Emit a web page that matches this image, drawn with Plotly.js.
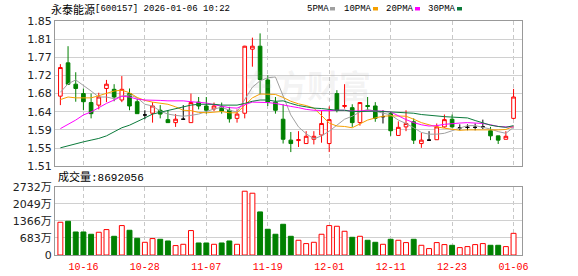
<!DOCTYPE html>
<html><head><meta charset="utf-8">
<script src="https://cdn.plot.ly/plotly-3.0.1.min.js"></script>
<style>html,body{margin:0;padding:0;background:#fff}#chart{width:578px;height:276px}</style>
</head><body><div id="chart"></div>
<script>
const dates = ['10-13','10-14','10-15','10-16','10-17','10-20','10-21','10-22','10-23','10-24',
'10-27','10-28','10-29','10-30','10-31','11-03','11-04','11-05','11-06','11-07',
'11-10','11-11','11-12','11-13','11-14','11-17','11-18','11-19','11-20','11-21',
'11-24','11-25','11-26','11-27','11-28','12-01','12-02','12-03','12-04','12-05',
'12-08','12-09','12-10','12-11','12-12','12-15','12-16','12-17','12-18','12-19',
'12-22','12-23','12-24','12-25','12-26','12-29','12-30','12-31','01-05','01-06'];

const opens  = [1.674,1.752,1.702,1.680,1.659,1.653,1.692,1.690,1.665,1.680,
1.661,1.630,1.634,1.641,1.619,1.612,1.620,1.612,1.660,1.651,
1.644,1.649,1.641,1.622,1.634,1.784,1.791,1.712,1.660,1.620,
1.571,1.570,1.563,1.573,1.583,1.563,1.680,1.650,1.647,1.612,
1.652,1.651,1.626,1.633,1.582,1.602,1.614,1.563,1.571,1.572,
1.602,1.620,1.600,1.601,1.601,1.602,1.593,1.581,1.573,1.622];
const highs  = [1.749,1.791,1.730,1.692,1.680,1.682,1.712,1.702,1.721,1.692,
1.668,1.641,1.660,1.653,1.641,1.632,1.653,1.680,1.672,1.672,
1.659,1.659,1.649,1.643,1.792,1.811,1.821,1.723,1.672,1.655,
1.590,1.592,1.592,1.592,1.639,1.650,1.688,1.702,1.655,1.660,
1.672,1.660,1.641,1.637,1.615,1.641,1.622,1.588,1.592,1.610,
1.631,1.631,1.608,1.608,1.610,1.619,1.602,1.581,1.592,1.691];
const lows   = [1.653,1.700,1.661,1.641,1.622,1.643,1.660,1.662,1.660,1.641,
1.633,1.620,1.612,1.622,1.612,1.602,1.619,1.612,1.643,1.633,
1.639,1.633,1.612,1.612,1.622,1.743,1.678,1.651,1.633,1.563,
1.543,1.555,1.563,1.561,1.565,1.543,1.636,1.645,1.602,1.605,
1.641,1.614,1.610,1.581,1.581,1.592,1.562,1.553,1.570,1.572,
1.600,1.600,1.594,1.594,1.594,1.597,1.571,1.562,1.573,1.620];
const closes = [1.741,1.702,1.692,1.661,1.633,1.672,1.702,1.672,1.690,1.651,
1.633,1.630,1.651,1.632,1.612,1.620,1.620,1.659,1.651,1.641,
1.651,1.639,1.621,1.632,1.791,1.791,1.713,1.660,1.641,1.573,
1.563,1.572,1.580,1.580,1.610,1.619,1.641,1.652,1.612,1.659,
1.650,1.622,1.626,1.593,1.601,1.610,1.571,1.571,1.571,1.602,
1.619,1.602,1.600,1.601,1.601,1.602,1.581,1.571,1.580,1.672];

const ma5  = [1.683,1.703,1.712,1.700,1.686,1.672,1.672,1.668,1.674,1.677,
1.670,1.655,1.651,1.639,1.632,1.629,1.627,1.629,1.632,1.638,
1.644,1.648,1.641,1.637,1.667,1.695,1.710,1.717,1.719,1.676,
1.630,1.602,1.586,1.574,1.581,1.592,1.606,1.620,1.627,1.637,
1.643,1.639,1.634,1.630,1.618,1.610,1.600,1.589,1.585,1.585,
1.587,1.593,1.599,1.605,1.605,1.601,1.597,1.591,1.587,1.601];
const ma10 = [1.666,1.672,1.670,1.670,1.670,1.675,1.680,1.686,1.688,1.682,
1.671,1.664,1.660,1.657,1.655,1.649,1.641,1.640,1.636,1.635,
1.637,1.638,1.635,1.635,1.653,1.670,1.679,1.679,1.678,1.671,
1.662,1.656,1.652,1.646,1.628,1.611,1.604,1.603,1.600,1.609,
1.618,1.623,1.627,1.628,1.628,1.627,1.620,1.612,1.607,1.602,
1.599,1.597,1.594,1.595,1.595,1.594,1.595,1.595,1.596,1.603];
const ma20 = [1.598,1.608,1.618,1.630,1.637,1.647,1.657,1.665,1.674,1.672,
1.667,1.665,1.665,1.664,1.663,1.663,1.663,1.661,1.660,1.658,
1.654,1.651,1.647,1.646,1.654,1.660,1.660,1.659,1.657,1.653,
1.650,1.647,1.643,1.641,1.640,1.640,1.641,1.641,1.639,1.640,
1.640,1.639,1.639,1.637,1.628,1.619,1.612,1.607,1.604,1.605,
1.608,1.610,1.611,1.612,1.611,1.610,1.607,1.603,1.602,1.602];
const ma30 = [1.553,1.558,1.562,1.567,1.571,1.575,1.581,1.590,1.600,1.606,
1.614,1.623,1.632,1.636,1.641,1.645,1.649,1.653,1.655,1.655,
1.655,1.653,1.653,1.653,1.657,1.662,1.665,1.665,1.662,1.663,
1.657,1.652,1.649,1.646,1.645,1.643,1.641,1.641,1.638,1.638,
1.639,1.639,1.638,1.637,1.636,1.636,1.634,1.631,1.629,1.627,
1.626,1.625,1.624,1.623,1.617,1.611,1.606,1.603,1.601,1.605];

// volume in 万 (10k shares)
const volume = [1314,1354,924,924,832,912,1020,751,1181,992,
671,510,659,631,563,378,430,980,482,482,
430,482,563,430,2559,2479,1728,1033,832,1233,
751,591,458,510,832,1181,1153,952,711,751,
591,510,430,631,591,498,631,390,257,498,
418,390,297,337,418,458,390,390,337,869];
// 1 = up (red hollow), -1 = down (green)
const volDir = [1,-1,-1,-1,-1,1,1,-1,1,-1,
-1,1,1,-1,-1,1,1,1,-1,-1,
1,-1,-1,1,1,1,-1,-1,-1,-1,
-1,1,1,1,1,1,1,1,-1,1,
-1,-1,1,-1,1,1,-1,1,1,1,
1,-1,1,1,1,1,-1,-1,1,1];

const xTickLabels = ['10-16','10-28','11-07','11-19','12-01','12-11','12-23','01-06'];
const priceTickVals = [1.51,1.5525,1.595,1.6375,1.68,1.7225,1.765,1.8075,1.85];
const priceTickText = ['1.51','1.55','1.59','1.64','1.68','1.72','1.77','1.81','1.85'];
const volTickVals = [0,683,1366,2049,2732];
const volTickText = ['0','683万','1366万','2049万','2732万'];
const maNames = ['5PMA','10PMA','20PMA','30PMA'];

const RED = '#ff0000', GREEN = '#008000', BLACK = '#000000';
const maColors = ['#a0a0a0','#f5a000','#ff00ff','#0b7a3b'];

function subset(pred){
  const o={x:[],open:[],high:[],low:[],close:[]};
  for(let i=0;i<dates.length;i++){
    if(pred(opens[i],closes[i])){
      o.x.push(dates[i]);o.open.push(opens[i]);o.high.push(highs[i]);o.low.push(lows[i]);o.close.push(closes[i]);
    }
  }
  return o;
}
function candle(d, color, fill){
  return Object.assign({type:'candlestick', xaxis:'x', yaxis:'y', whiskerwidth:0, hoverinfo:'skip',
    increasing:{line:{color:color,width:1},fillcolor:fill},
    decreasing:{line:{color:color,width:1},fillcolor:fill}}, d);
}
const traces = [
  candle(subset((o,c)=>c>o), RED, '#ffffff'),
  candle(subset((o,c)=>c<o), GREEN, GREEN),
  candle(subset((o,c)=>c===o), BLACK, BLACK)
];
[ma5,ma10,ma20,ma30].forEach((m,k)=>{
  traces.push({type:'scatter',mode:'lines',x:dates,y:m,xaxis:'x',yaxis:'y',
    line:{color:maColors[k],width:1},hoverinfo:'skip'});
});
traces.push({type:'bar',x:dates,y:volume,xaxis:'x2',yaxis:'y2',hoverinfo:'skip',
  marker:{color:volDir.map(d=>d>0?'#ffffff':GREEN),
          line:{color:volDir.map(d=>d>0?RED:GREEN),width:1}}});

const L=55, R=522, T=21, B=254.7;
const px = x => (x-L)/(R-L);
const py = y => (B-y)/(B-T);

const annotations = [
  {text:'永泰能源',x:px(50),y:py(9),xref:'paper',yref:'paper',xanchor:'left',yanchor:'middle',showarrow:false,
   font:{family:'Noto Sans CJK SC',size:11,color:'#000'},borderpad:0},
  {text:'[600157] 2026-01-06 10:22',x:px(94),y:py(9),xref:'paper',yref:'paper',xanchor:'left',yanchor:'middle',showarrow:false,
   font:{family:'Liberation Mono',size:9,color:'#000'},borderpad:0},
  {text:'成交量:8692056',x:px(57),y:py(177),xref:'paper',yref:'paper',xanchor:'left',yanchor:'middle',showarrow:false,
   font:{family:'Liberation Mono, Noto Sans CJK SC',size:11,color:'#000'},borderpad:0},
  {text:'东方财富',x:px(307),y:py(84),xref:'paper',yref:'paper',xanchor:'center',yanchor:'middle',showarrow:false,
   font:{family:'Noto Sans CJK SC',size:32,color:'rgba(160,160,160,0.13)',weight:700},borderpad:0}
];
const legX = [306,343,385,427], sqX = [330,373,415,457];
const shapes = [];
maNames.forEach((n,k)=>{
  annotations.push({text:n,x:px(legX[k]),y:py(9),xref:'paper',yref:'paper',xanchor:'left',yanchor:'middle',showarrow:false,
    font:{family:'Liberation Mono',size:9,color:'#000'},borderpad:0});
  shapes.push({type:'rect',xref:'paper',yref:'paper',x0:px(sqX[k]),x1:px(sqX[k]+5),y0:py(7),y1:py(10.5),
    fillcolor:maColors[k],line:{width:0}});
});

const baseX = {type:'category',categoryorder:'array',categoryarray:dates,range:[-0.7,60.1],
  tickvals:xTickLabels,showgrid:true,gridcolor:'#c8c8c8',griddash:'4px,3px',gridwidth:1,
  showline:true,mirror:true,linecolor:'#999999',linewidth:1,ticks:'',zeroline:false,fixedrange:true};

const layout = {
  width:578,height:276,margin:{l:L,r:578-R,t:T,b:276-B},
  paper_bgcolor:'#ffffff',plot_bgcolor:'#ffffff',showlegend:false,boxgap:0.32,bargap:0.36,
  xaxis:Object.assign({},baseX,{anchor:'y',showticklabels:false,rangeslider:{visible:false}}),
  xaxis2:Object.assign({},baseX,{anchor:'y2',showticklabels:true,
    tickfont:{family:'Liberation Mono',size:10,color:'#ff0000'},ticklabelstandoff:2}),
  yaxis:{domain:[py(166),1],range:[1.51,1.85],tickvals:priceTickVals,ticktext:priceTickText,
    showgrid:true,gridcolor:'#d0d0d0',showline:true,mirror:true,linecolor:'#999999',zeroline:false,ticks:'',
    tickfont:{family:'DejaVu Sans, Noto Sans CJK SC',size:11,color:'#222'},fixedrange:true},
  yaxis2:{domain:[0,py(186.7)],range:[0,2732],tickvals:volTickVals,ticktext:volTickText,
    showgrid:true,gridcolor:'#d0d0d0',showline:true,mirror:true,linecolor:'#999999',zeroline:false,ticks:'',
    tickfont:{family:'DejaVu Sans, Noto Sans CJK SC',size:11,color:'#222'},fixedrange:true},
  annotations:annotations,shapes:shapes
};
Plotly.newPlot('chart',traces,layout,{displayModeBar:false,staticPlot:true});
</script></body></html>
